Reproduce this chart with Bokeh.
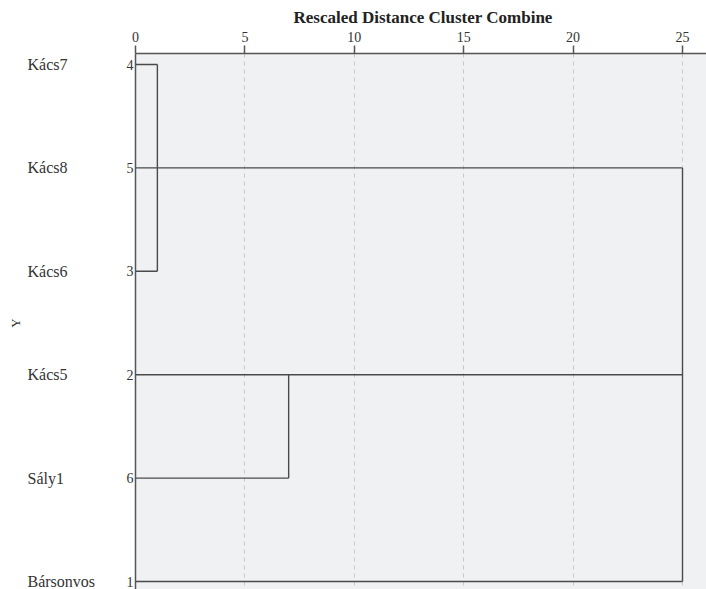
import math
from bokeh.plotting import figure
from bokeh.models import Range1d, FixedTicker, BoxAnnotation, Span, ColumnDataSource, Title
from bokeh.core.properties import value
from bokeh.embed import file_html
from bokeh.resources import INLINE

# ---- data ----
names = ["Kács7", "Kács8", "Kács6", "Kács5", "Sály1", "Bársonvos"]
case_ids = ["4", "5", "3", "2", "6", "1"]
leaf_join = [1, 25, 1, 25, 7, 25]          # rescaled distance where each leaf line ends
merge_dist = [1, 7, 25]
merge_from = ["Kács7", "Kács5", "Kács8"]
merge_to = ["Kács6", "Sály1", "Bársonvos"]
x_ticks = [0, 5, 10, 15, 20, 25]
x_title = "Rescaled Distance Cluster Combine"
y_title = "Y"

# ---- layout (pixels) ----
W, H = 706, 589
frame_top = 53
row0_px = 64
row_step = 103.4
zero_px = 135
px_per_unit = 21.88
title_left_px = 293

x_start = -zero_px / px_per_unit
x_end = (W - zero_px) / px_per_unit
y_top = -(row0_px - frame_top) / row_step
n = len(names)
y_bottom = (n - 1) + (H - (row0_px + row_step * (n - 1))) / row_step

pos = {nm: i for i, nm in enumerate(names)}

p = figure(width=W, height=H, output_backend="svg", toolbar_location=None,
           x_axis_location="above", y_axis_location=None,
           x_range=Range1d(x_start, x_end), y_range=Range1d(y_bottom, y_top),
           min_border_left=0, min_border_right=0, min_border_bottom=0,
           min_border_top=frame_top,
           title=Title(text=x_title, align="left", offset=title_left_px,
                       text_font="Liberation Serif", text_font_style="bold",
                       text_font_size="17px", text_color="#222222", standoff=4))
p.background_fill_color = "white"
p.border_fill_color = "white"
p.outline_line_color = None

ax = p.xaxis[0]
ax.bounds = (0, x_end)
ax.ticker = FixedTicker(ticks=x_ticks)
ax.major_label_text_font = "Liberation Serif"
ax.major_label_text_font_size = "14px"
ax.major_label_text_color = "#333333"
ax.major_label_standoff = 4
ax.major_tick_out = 8
ax.major_tick_in = 0
ax.minor_tick_line_color = None
ax.axis_line_color = "#555555"
ax.axis_line_width = 1.5
ax.major_tick_line_color = "#555555"
ax.major_tick_line_width = 1.5

p.xgrid.ticker = FixedTicker(ticks=x_ticks)
p.xgrid.grid_line_color = "#c8c8c8"
p.xgrid.grid_line_dash = "4 4"
p.xgrid.grid_line_width = 1
p.ygrid.visible = False

# grey plotting area right of the distance axis origin, drawn beneath the grid
bg = BoxAnnotation(left=0, fill_color="#f0f1f3", fill_alpha=1.0,
                   line_color=None, level="underlay")
p.center = [bg] + list(p.center)

# dendrogram: leaf lines
leaf_src = ColumnDataSource(dict(x0=[0] * n, x1=leaf_join,
                                 y=[pos[nm] for nm in names]))
p.segment(x0="x0", y0="y", x1="x1", y1="y", source=leaf_src,
          line_color="#4a4a4a", line_width=1.4)
# dendrogram: vertical joins
join_src = ColumnDataSource(dict(x=merge_dist,
                                 y0=[pos[a] for a in merge_from],
                                 y1=[pos[b] for b in merge_to]))
p.segment(x0="x", y0="y0", x1="x", y1="y1", source=join_src,
          line_color="#4a4a4a", line_width=1.4)

# y axis line
p.add_layout(Span(location=0, dimension="height", line_color="#555555",
                  line_width=1.5))

# labels
lab_src = ColumnDataSource(dict(x=[0] * n, y=list(range(n)), name=names, cid=case_ids))
p.text(x="x", y="y", text="cid", source=lab_src, x_offset=-2,
       text_align="right", text_baseline="middle",
       text_font=value("Liberation Serif"), text_font_size="14px",
       text_color="#333333")
p.text(x="x", y="y", text="name", source=lab_src, x_offset=-108,
       text_align="left", text_baseline="middle",
       text_font=value("Liberation Serif"), text_font_size="16px",
       text_color="#333333")
p.text(x=[0], y=[(n - 1) / 2], text=[y_title], x_offset=-120, angle=math.pi / 2,
       text_align="center", text_baseline="middle",
       text_font=value("Liberation Serif"), text_font_size="13px",
       text_color="#333333")

open("out.html", "w").write(file_html(p, INLINE))
